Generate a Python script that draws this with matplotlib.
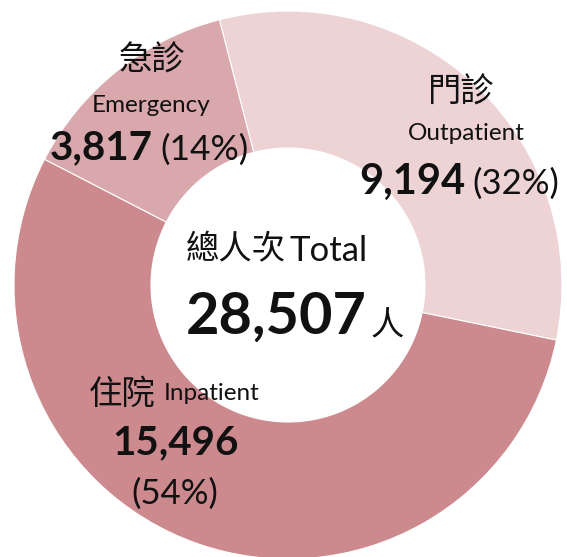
import matplotlib.pyplot as plt

labels_zh = ["門診", "急診", "住院"]
labels_en = ["Outpatient", "Emergency", "Inpatient"]
visits = [9194, 3817, 15496]
percents = [32, 14, 54]
slice_colors = ["#eed3d5", "#d9a8ac", "#cd8a8e"]
total_zh = "總人次"
total_en = "Total"
total_unit = "人"

plt.rcParams["font.family"] = ["Lato", "Noto Sans CJK TC", "DejaVu Sans"]

W, H = 567, 557
fig = plt.figure(figsize=(W / 100, H / 100), dpi=100)
ax = fig.add_axes([0, 0, 1, 1])

ax.pie(
    visits,
    colors=slice_colors,
    startangle=-11.6,
    counterclock=True,
    radius=274,
    center=(288, H - 285),
    wedgeprops=dict(width=137, edgecolor="white", linewidth=0.8),
)
ax.set_xlim(0, W)
ax.set_ylim(0, H)
ax.set_aspect("equal")
ax.axis("off")

ink = "#111111"


def put(x, y, s, size, ha="center", weight="normal", va="center"):
    ax.text(x, H - y, s, fontsize=size, ha=ha, va=va, color=ink, fontweight=weight)


def fmt(v):
    return f"{v:,}"


# outpatient
put(461, 92, labels_zh[0], 24)
put(466, 133, labels_en[0], 17.5)
put(465, 182, fmt(visits[0]), 30, ha="right", weight="bold")
put(472, 184, f"({percents[0]}%)", 25, ha="left")

# emergency
put(152, 60, labels_zh[1], 24)
put(151, 105, labels_en[1], 17.5)
put(153, 148, fmt(visits[1]), 29, ha="right", weight="bold")
put(160, 150, f"({percents[1]}%)", 25.5, ha="left")

# inpatient
put(156, 394, labels_zh[2], 24, ha="right")
put(164, 394, labels_en[2], 17.5, ha="left")
put(176, 443, fmt(visits[2]), 29, weight="bold")
put(175, 494, f"({percents[2]}%)", 25)

# centre
put(286, 250, total_zh, 24, ha="right")
put(290, 251, total_en, 25, ha="left")
put(367, 317, fmt(sum(visits)), 41.5, ha="right", weight="bold")
put(371, 326, total_unit, 24, ha="left")

fig.savefig("out.png", dpi=100)
